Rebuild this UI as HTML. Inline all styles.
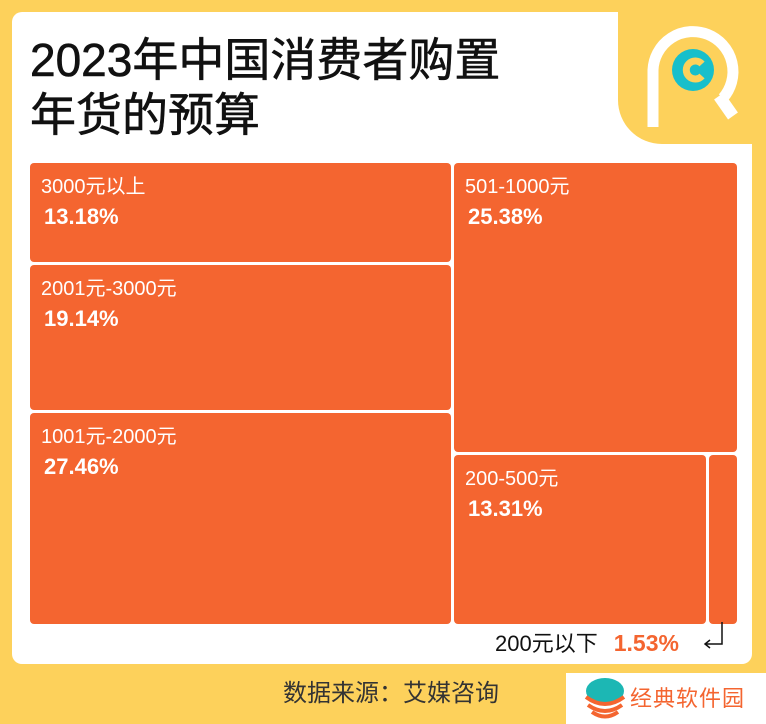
<!DOCTYPE html>
<html><head><meta charset="utf-8"><style>
*{margin:0;padding:0}
body{width:766px;height:724px;background:#FDD15B;position:relative;overflow:hidden;font-family:"Liberation Sans","Noto Sans CJK SC",sans-serif}
.panel{position:absolute;left:12px;top:12px;width:740px;height:652px;background:#fff;border-radius:10px}
.corner{position:absolute;left:618px;top:12px;width:148px;height:132px;background:#FDD15B;border-bottom-left-radius:44px}
.t{position:absolute;background:#F46530;border-radius:4px;color:#fff}
.t .a{position:absolute;left:11px;top:12px;font-size:20px;line-height:24px}
.t .b{position:absolute;left:14px;top:41px;font-size:22px;font-weight:bold;line-height:26px}
h1{position:absolute;left:30px;top:33px;font-size:46px;line-height:55px;font-weight:normal;color:#111;letter-spacing:0;-webkit-text-stroke:0.6px #111}
</style></head><body>
<div class="panel"></div>
<div class="corner"></div>
<svg style="position:absolute;left:635px;top:18px" width="120" height="115" viewBox="0 0 120 115">
<path d="M18 109 V52 A40 40 0 1 1 88 80" fill="none" stroke="#fff" stroke-width="11"/>
<path d="M84 78 L98 98" stroke="#fff" stroke-width="12"/>
<circle cx="58" cy="52" r="21" fill="#17BFCB"/>
<path d="M67 46 A9 9 0 1 0 67 58" fill="none" stroke="#FDD15B" stroke-width="7"/>
</svg>
<h1>2023年中国消费者购置<br>年货的预算</h1>
<div class="t" style="left:30px;top:163px;width:421px;height:99px"><div class="a">3000元以上</div><div class="b">13.18%</div></div>
<div class="t" style="left:30px;top:265px;width:421px;height:145px"><div class="a">2001元-3000元</div><div class="b">19.14%</div></div>
<div class="t" style="left:30px;top:413px;width:421px;height:211px"><div class="a">1001元-2000元</div><div class="b">27.46%</div></div>
<div class="t" style="left:454px;top:163px;width:283px;height:289px"><div class="a">501-1000元</div><div class="b">25.38%</div></div>
<div class="t" style="left:454px;top:455px;width:252px;height:169px"><div class="a">200-500元</div><div class="b">13.31%</div></div>
<div class="t" style="left:709px;top:455px;width:28px;height:169px"></div>
<div style="position:absolute;left:495px;top:629px;font-size:22px;color:#111;line-height:28px">200元以下<b style="color:#F46530;margin-left:16px;font-size:23px">1.53%</b></div>
<svg style="position:absolute;left:700px;top:620px" width="30" height="30"><path d="M22 2 V24 H6 M10 20 L5 24 L10 28" fill="none" stroke="#111" stroke-width="1.5"/></svg>
<div style="position:absolute;left:283px;top:679px;font-size:24px;color:#333;line-height:30px">数据来源：艾媒咨询</div>
<div style="position:absolute;left:566px;top:673px;width:200px;height:51px;background:#fff"></div>
<svg style="position:absolute;left:583px;top:677px" width="44" height="44"><ellipse cx="22" cy="14" rx="19" ry="13" fill="#1CB7B4"/><path d="M3 20 Q22 34 41 20 M5 28 Q22 40 39 28 M9 35 Q22 44 35 35" fill="none" stroke="#F46530" stroke-width="4"/></svg>
<div style="position:absolute;left:630px;top:684px;font-size:22px;color:#F46530;letter-spacing:1px;line-height:30px;white-space:nowrap">经典软件园</div>
</body></html>
